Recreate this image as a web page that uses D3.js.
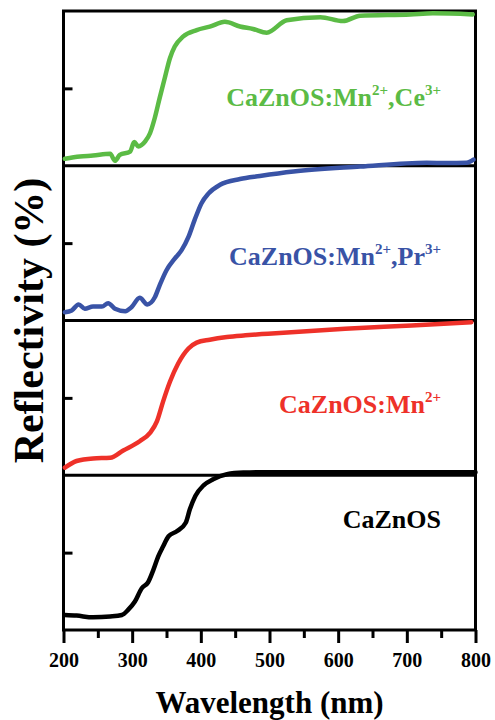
<!DOCTYPE html>
<html>
<head>
<meta charset="utf-8">
<script src="https://cdn.jsdelivr.net/npm/d3@7"></script>
<style>
  html, body { margin: 0; padding: 0; background: #fff; }
  svg { display: block; font-family: "Liberation Serif", "Times New Roman", serif; font-weight: bold; }
</style>
</head>
<body>
<div id="chart"></div>
<script>
// --- data ---
const xTicks = [200, 300, 400, 500, 600, 700, 800];
const xMinorTicks = [250, 350, 450, 550, 650, 750];

// CaZnOS:Mn2+,Ce3+ (green, top panel)
const ceWl = [202, 224, 243, 268, 275, 282, 297, 303, 309, 319, 326, 333, 340, 348, 355, 362, 374, 394, 413, 435, 457, 476, 496, 525, 574, 607, 632, 705, 738, 796];
const ceR  = [4.5, 6, 6.6, 7.7, 3.2, 7, 9.2, 15.3, 12.5, 15.7, 21, 31, 43.7, 57.6, 69.5, 77, 83.4, 87.7, 89.9, 93, 90, 88.4, 86, 94, 96, 93.5, 97, 97.8, 98.5, 97.8];

// CaZnOS:Mn2+,Pr3+ (blue)
const prWl = [202, 212, 222, 231, 243, 256, 265, 275, 290, 299, 311, 322, 333, 340, 350, 362, 372, 382, 391, 401, 411, 428, 457, 486, 535, 632, 729, 758, 787, 797];
const prR  = [5.4, 6.5, 10.4, 7.6, 9, 9, 11.2, 7.6, 6, 8.6, 14.7, 10.4, 15, 22.7, 32.5, 40, 45.5, 54, 65, 75.8, 82, 87.7, 91.4, 93.4, 96.3, 99.5, 102, 101.7, 102, 104];

// CaZnOS:Mn2+ (red)
const mnWl = [202, 219, 243, 268, 287, 311, 326, 336, 345, 355, 367, 382, 394, 413, 438, 465, 498, 610, 707, 794];
const mnR  = [4.9, 9.2, 10.9, 11.3, 16, 22, 27.4, 34.8, 47.6, 60.4, 72.2, 81.9, 85.7, 87.6, 89.3, 90.4, 91.5, 94.7, 96.8, 98.9];

// CaZnOS (black, bottom panel)
const czWl = [202, 219, 243, 268, 285, 294, 304, 314, 323, 331, 338, 345, 353, 365, 378, 384, 392, 404, 418, 438, 462, 501, 600, 700, 800];
const czR  = [9.7, 9.3, 8.2, 8.7, 9.7, 13, 18.4, 27, 30.7, 39, 47.6, 54, 60.6, 63.8, 69.3, 78, 86.6, 93.5, 97.4, 100.6, 101.7, 102, 102, 102, 102];

const seriesColors = ["#5bbb45", "#3953a6", "#ee3129", "#000000"];

// --- layout ---
const width = 495, height = 720;
const plotL = 63.5, plotR = 475.5, plotT = 11, plotB = 630;
const panelH = (plotB - plotT) / 4;

const svg = d3.select("#chart").append("svg")
    .attr("width", width)
    .attr("height", height);

const x = d3.scaleLinear().domain([200, 800]).range([plotL, plotR]);

const panels = [
    { wl: ceWl, r: ceR, color: seriesColors[0], label: [["CaZnOS:Mn", ""], ["2+", "sup"], [",Ce", ""], ["3+", "sup"]], ly: 106 },
    { wl: prWl, r: prR, color: seriesColors[1], label: [["CaZnOS:Mn", ""], ["2+", "sup"], [",Pr", ""], ["3+", "sup"]], ly: 265 },
    { wl: mnWl, r: mnR, color: seriesColors[2], label: [["CaZnOS:Mn", ""], ["2+", "sup"]], ly: 413 },
    { wl: czWl, r: czR, color: seriesColors[3], label: [["CaZnOS", ""]], ly: 528 }
];

// frame + separators
svg.append("rect")
    .attr("x", plotL).attr("y", plotT)
    .attr("width", plotR - plotL).attr("height", plotB - plotT)
    .attr("fill", "none").attr("stroke", "#000").attr("stroke-width", 3);

for (let i = 1; i < 4; i++) {
    svg.append("line")
        .attr("x1", plotL).attr("x2", plotR)
        .attr("y1", plotT + i * panelH).attr("y2", plotT + i * panelH)
        .attr("stroke", "#000").attr("stroke-width", 3);
}

panels.forEach((p, i) => {
    const y0 = plotT + i * panelH;
    const y = d3.scaleLinear().domain([0, 100]).range([y0 + panelH, y0]);

    // inward tick at mid panel
    const yAxis = svg.append("g")
        .attr("transform", `translate(${plotL},0)`)
        .call(d3.axisLeft(y).tickValues([50]).tickSize(-9).tickFormat(""));
    yAxis.select(".domain").remove();
    yAxis.selectAll("line").attr("stroke-width", 3);

    const line = d3.line()
        .x((d, k) => x(p.wl[k]))
        .y(d => y(d))
        .curve(d3.curveMonotoneX);

    svg.append("path")
        .datum(p.r)
        .attr("fill", "none")
        .attr("stroke", p.color)
        .attr("stroke-width", 4.5)
        .attr("stroke-linejoin", "round")
        .attr("stroke-linecap", "round")
        .attr("d", line);

    // label, right aligned
    const t = svg.append("text")
        .attr("x", 441)
        .attr("y", p.ly)
        .attr("text-anchor", "end")
        .attr("fill", p.color)
        .attr("font-size", 26);
    p.label.forEach(([txt, kind], k) => {
        const ts = t.append("tspan").text(txt);
        if (kind === "sup") ts.attr("font-size", 15).attr("dy", -11);
        else if (k > 0) ts.attr("dy", 11);
    });
});

// x axis
const xAxis = svg.append("g")
    .attr("transform", `translate(0,${plotB})`)
    .call(d3.axisBottom(x).tickValues(xTicks).tickSize(13).tickPadding(10).tickFormat(d3.format("d")));
xAxis.select(".domain").remove();
xAxis.selectAll("line").attr("stroke-width", 3);
xAxis.selectAll("text")
    .attr("font-family", "Liberation Serif, Times New Roman, serif")
    .attr("font-weight", "bold")
    .attr("font-size", 20)
    .attr("fill", "#000");

const xMinor = svg.append("g")
    .attr("transform", `translate(0,${plotB})`)
    .call(d3.axisBottom(x).tickValues(xMinorTicks).tickSize(8).tickFormat(""));
xMinor.select(".domain").remove();
xMinor.selectAll("line").attr("stroke-width", 3);

// axis titles
svg.append("text")
    .attr("x", (plotL + plotR) / 2)
    .attr("y", 713)
    .attr("text-anchor", "middle")
    .attr("font-size", 31)
    .text("Wavelength (nm)");

svg.append("text")
    .attr("transform", `translate(43,${(plotT + plotB) / 2}) rotate(-90)`)
    .attr("text-anchor", "middle")
    .attr("font-size", 42)
    .text("Reflectivity (%)");
</script>
</body>
</html>
